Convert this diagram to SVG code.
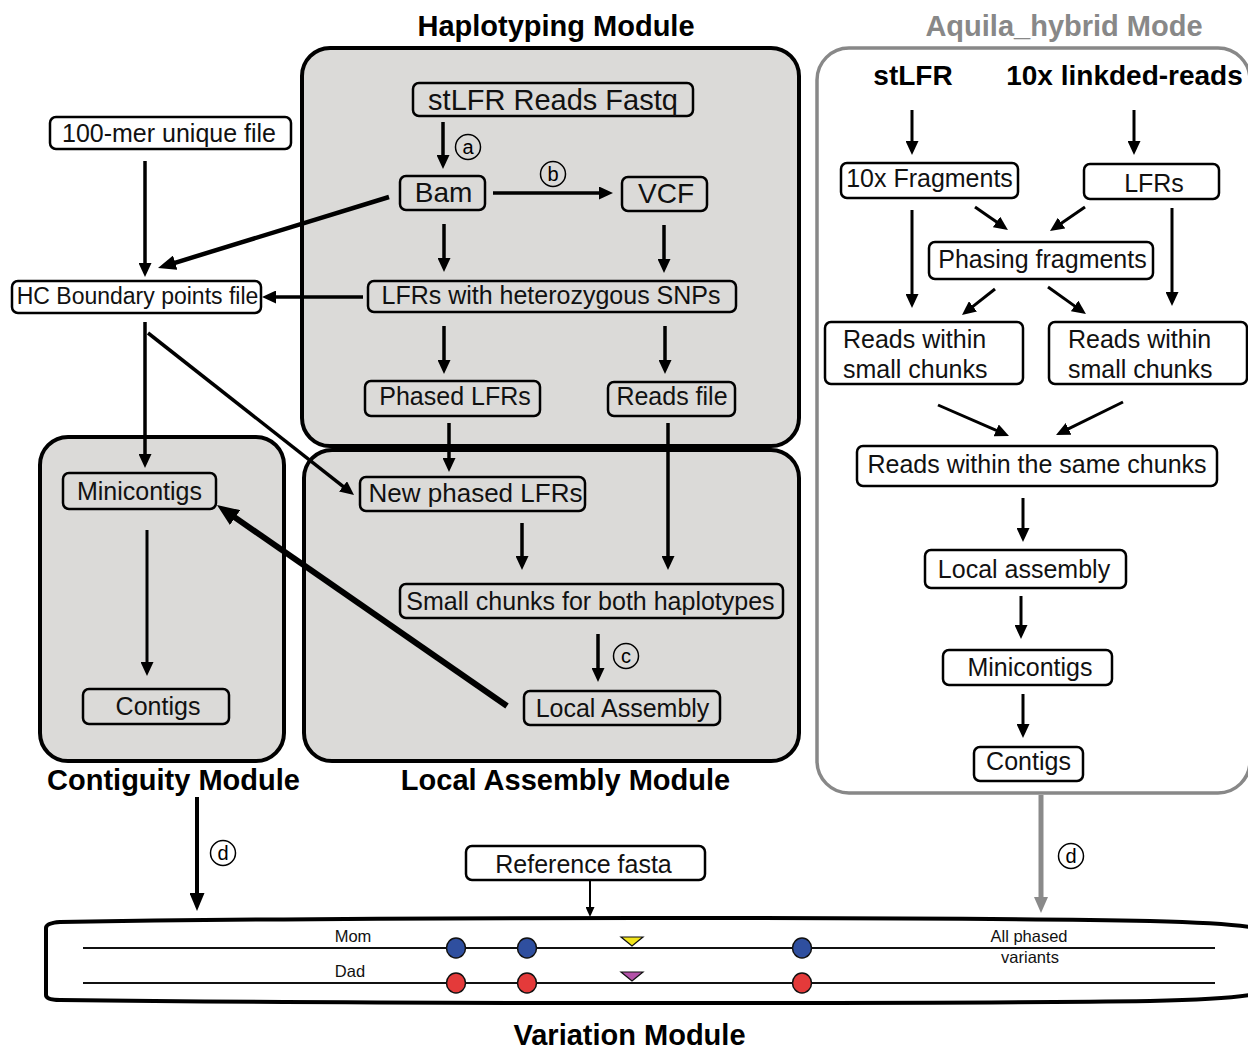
<svg xmlns="http://www.w3.org/2000/svg" width="1248" height="1051" viewBox="0 0 1248 1051">
<style>
.panel{fill:#dbdad8;stroke:#000;stroke-width:4}
.box{fill:none;stroke:#000;stroke-width:2.5}
.t{font-family:"Liberation Sans",Arial,sans-serif;font-size:25px;fill:#111;text-anchor:middle}
.tl{font-family:"Liberation Sans",Arial,sans-serif;font-size:25px;fill:#111}
.h{font-family:"Liberation Sans",Arial,sans-serif;font-size:29px;font-weight:bold;fill:#000;text-anchor:middle}
.s{font-family:"Liberation Sans",Arial,sans-serif;font-size:16.5px;fill:#111;text-anchor:middle}
.c{font-family:"Liberation Sans",Arial,sans-serif;font-size:20px;fill:#000;text-anchor:middle}
.cc{fill:none;stroke:#000;stroke-width:1.5}
.a{stroke:#000;fill:none;stroke-width:3.5;marker-end:url(#m1)}
.a3{stroke:#000;fill:none;stroke-width:3;marker-end:url(#m1)}
</style>
<defs>
<marker id="m1" markerUnits="userSpaceOnUse" markerWidth="14" markerHeight="13" refX="2" refY="6.5" orient="auto"><path d="M0,0 L14,6.5 L0,13 z" fill="#000"/></marker>
<marker id="m2" markerUnits="userSpaceOnUse" markerWidth="18" markerHeight="15" refX="2" refY="7.5" orient="auto"><path d="M0,0 L18,7.5 L0,15 z" fill="#000"/></marker>
<marker id="m3" markerUnits="userSpaceOnUse" markerWidth="22" markerHeight="18" refX="2" refY="9" orient="auto"><path d="M0,0 L22,9 L0,18 z" fill="#000"/></marker>
<marker id="mg" markerUnits="userSpaceOnUse" markerWidth="16" markerHeight="14" refX="2" refY="7" orient="auto"><path d="M0,0 L16,7 L0,14 z" fill="#8a8a8a"/></marker>
<marker id="ms" markerUnits="userSpaceOnUse" markerWidth="10" markerHeight="9" refX="1" refY="4.5" orient="auto"><path d="M0,0 L10,4.5 L0,9 z" fill="#000"/></marker>
</defs>
<rect width="1248" height="1051" fill="#fff"/>

<!-- panels -->
<g id="haplotyping-module">
<rect class="panel" x="302" y="48" width="497" height="398" rx="28"/>
<text class="h" x="556" y="36">Haplotyping Module</text>
</g>
<g id="contiguity-module">
<rect class="panel" x="40" y="437" width="244" height="324" rx="28"/>
<text class="h" x="173.5" y="790">Contiguity Module</text>
</g>
<g id="local-assembly-module">
<rect class="panel" x="304" y="450" width="495" height="311" rx="28"/>
<text class="h" x="565.5" y="790">Local Assembly Module</text>
</g>
<g id="aquila-hybrid-mode">
<rect x="817" y="48" width="433" height="745" rx="32" fill="none" stroke="#888" stroke-width="3.5"/>
<text class="h" x="1064" y="36" style="fill:#888">Aquila_hybrid Mode</text>
<text class="h" x="913" y="85" style="font-size:28px">stLFR</text>
<text class="h" x="1124.5" y="85" style="font-size:28px">10x linkded-reads</text>
</g>

<!-- nodes -->
<g id="n-100mer"><rect class="box" x="50" y="117" width="241" height="32" rx="6"/><text class="t" x="169" y="142">100-mer unique file</text></g>
<g id="n-hc"><rect class="box" x="12" y="281" width="249" height="32" rx="6"/><text class="t" x="137.5" y="304" style="font-size:23px">HC Boundary points file</text></g>
<g id="n-stlfr-fastq"><rect class="box" x="413" y="83" width="280" height="33" rx="6"/><text class="t" x="553" y="110" style="font-size:29px">stLFR Reads Fastq</text></g>
<g id="n-bam"><rect class="box" x="400" y="176" width="85" height="34" rx="6"/><text class="t" x="443.5" y="202" style="font-size:28px">Bam</text></g>
<g id="n-vcf"><rect class="box" x="622" y="177" width="85" height="34" rx="6"/><text class="t" x="666" y="203" style="font-size:28px">VCF</text></g>
<g id="n-lfrs-het"><rect class="box" x="368" y="281" width="368" height="31" rx="6"/><text class="t" x="551" y="304">LFRs with heterozygous SNPs</text></g>
<g id="n-phased-lfrs"><rect class="box" x="365" y="381" width="175" height="35" rx="6"/><text class="t" x="455" y="405">Phased LFRs</text></g>
<g id="n-reads-file"><rect class="box" x="608" y="382" width="127" height="34" rx="6"/><text class="t" x="672" y="405">Reads file</text></g>
<g id="n-minicontigs-l"><rect class="box" x="63" y="473" width="153" height="36" rx="6"/><text class="t" x="139.5" y="500">Minicontigs</text></g>
<g id="n-contigs-l"><rect class="box" x="83" y="689" width="146" height="35" rx="6"/><text class="t" x="158" y="715">Contigs</text></g>
<g id="n-new-phased"><rect class="box" x="360" y="477" width="225" height="34" rx="6"/><text class="t" x="475.5" y="502" style="font-size:26px">New phased LFRs</text></g>
<g id="n-small-chunks"><rect class="box" x="400" y="584" width="383" height="34" rx="6"/><text class="t" x="590.5" y="610">Small chunks for both haplotypes</text></g>
<g id="n-local-assembly"><rect class="box" x="524" y="691" width="196" height="34" rx="6"/><text class="t" x="622.5" y="717">Local Assembly</text></g>
<g id="n-10x-frag"><rect class="box" x="841" y="163" width="177" height="35" rx="6"/><text class="t" x="929.5" y="187">10x Fragments</text></g>
<g id="n-lfrs-r"><rect class="box" x="1084" y="164" width="135" height="35" rx="6"/><text class="t" x="1154" y="192">LFRs</text></g>
<g id="n-phasing"><rect class="box" x="929" y="242" width="224" height="37" rx="6"/><text class="t" x="1042.5" y="268">Phasing fragments</text></g>
<g id="n-reads-small-l"><rect class="box" x="825" y="322" width="198" height="62" rx="6"/><text class="tl" x="843" y="348">Reads within</text><text class="tl" x="843" y="378">small chunks</text></g>
<g id="n-reads-small-r"><rect class="box" x="1049" y="322" width="198" height="62" rx="6"/><text class="tl" x="1068" y="348">Reads within</text><text class="tl" x="1068" y="378">small chunks</text></g>
<g id="n-same-chunks"><rect class="box" x="857" y="446" width="360" height="40" rx="6"/><text class="t" x="1037" y="473">Reads within the same chunks</text></g>
<g id="n-local-asm-r"><rect class="box" x="925" y="550" width="201" height="38" rx="6"/><text class="t" x="1024" y="578">Local assembly</text></g>
<g id="n-minicontigs-r"><rect class="box" x="943" y="650" width="169" height="35" rx="6"/><text class="t" x="1030" y="676">Minicontigs</text></g>
<g id="n-contigs-r"><rect class="box" x="974" y="747" width="109" height="34" rx="6"/><text class="t" x="1028.5" y="770">Contigs</text></g>
<g id="n-reference"><rect class="box" x="466" y="846" width="239" height="34" rx="6"/><text class="t" x="583.5" y="873">Reference fasta</text></g>

<!-- variation module -->
<g id="variation-module">
<path d="M1255,928 Q1230,923 1150,921 Q1000,918 640,918 Q300,918 60,922 Q46,923 46,928 L46,995 Q46,1000 60,1000 Q300,1003 640,1003 Q1000,1003 1150,1001 Q1230,999 1255,994" fill="none" stroke="#000" stroke-width="4"/>
<line x1="83" y1="948" x2="1215" y2="948" stroke="#111" stroke-width="2"/>
<line x1="83" y1="983" x2="1215" y2="983" stroke="#111" stroke-width="2"/>
<text class="s" x="353" y="942">Mom</text>
<text class="s" x="350" y="977">Dad</text>
<text class="s" x="1029" y="942">All phased</text>
<text class="s" x="1030" y="963">variants</text>
<ellipse cx="456" cy="948" rx="9.5" ry="10" fill="#2f4f9f" stroke="#111" stroke-width="1.5"/>
<ellipse cx="527" cy="948" rx="9.5" ry="10" fill="#2f4f9f" stroke="#111" stroke-width="1.5"/>
<ellipse cx="802" cy="948" rx="9.5" ry="10" fill="#2f4f9f" stroke="#111" stroke-width="1.5"/>
<ellipse cx="456" cy="983" rx="9.5" ry="10" fill="#e43a3a" stroke="#111" stroke-width="1.5"/>
<ellipse cx="527" cy="983" rx="9.5" ry="10" fill="#e43a3a" stroke="#111" stroke-width="1.5"/>
<ellipse cx="802" cy="983" rx="9.5" ry="10" fill="#e43a3a" stroke="#111" stroke-width="1.5"/>
<polygon points="621,937 643,937 632,946" fill="#f2e51b" stroke="#111" stroke-width="1.2"/>
<polygon points="621,972 643,972 632,981" fill="#b352a8" stroke="#111" stroke-width="1.2"/>
<text class="h" x="629.5" y="1045">Variation Module</text>
</g>

<!-- connectors -->
<g id="connectors">
<line class="a" x1="443" y1="122" x2="443" y2="157"/>
<line class="a" x1="493" y1="193" x2="601" y2="193"/>
<line class="a" x1="444" y1="224" x2="444" y2="260"/>
<line class="a" x1="664" y1="225" x2="664" y2="261"/>
<line class="a" x1="444" y1="326" x2="444" y2="362"/>
<line class="a" x1="665" y1="326" x2="665" y2="362"/>
<line class="a" x1="449" y1="423" x2="449" y2="460"/>
<line class="a" x1="668" y1="423" x2="668" y2="558"/>
<line class="a" x1="145" y1="161" x2="145" y2="265"/>
<line x1="389" y1="197" x2="173.3" y2="263.3" stroke="#000" stroke-width="4.5" marker-end="url(#m2)"/>
<line class="a" x1="363" y1="297" x2="274" y2="297"/>
<line class="a" x1="145" y1="322" x2="145" y2="456"/>
<line class="a" x1="148" y1="333" x2="344.6" y2="487.6"/>
<line class="a3" x1="147" y1="530" x2="147" y2="664"/>
<line class="a" x1="522" y1="523" x2="522" y2="558"/>
<line class="a" x1="598" y1="634" x2="598" y2="670"/>
<line x1="507" y1="706" x2="233.4" y2="516.4" stroke="#000" stroke-width="6" marker-end="url(#m3)"/>
<line class="a3" x1="912" y1="110" x2="912" y2="143"/>
<line class="a3" x1="1134" y1="110" x2="1134" y2="143"/>
<line class="a3" x1="975" y1="207" x2="998.1" y2="223.1"/>
<line class="a3" x1="1085" y1="207" x2="1059.9" y2="224.2"/>
<line class="a3" x1="912" y1="210" x2="912" y2="296"/>
<line class="a3" x1="1172" y1="208" x2="1172" y2="294"/>
<line class="a3" x1="995" y1="289" x2="971.4" y2="307.6"/>
<line class="a3" x1="1048" y1="287" x2="1076.2" y2="307.1"/>
<line class="a3" x1="938" y1="405" x2="998" y2="431.2"/>
<line class="a3" x1="1123" y1="402" x2="1066.8" y2="429.7"/>
<line class="a3" x1="1023" y1="498" x2="1023" y2="530"/>
<line class="a3" x1="1021" y1="596" x2="1021" y2="627"/>
<line class="a3" x1="1023" y1="694" x2="1023" y2="726"/>
<line x1="197" y1="797" x2="197" y2="895" stroke="#000" stroke-width="4" marker-end="url(#m2)"/>
<line x1="1041" y1="795" x2="1041" y2="899" stroke="#8a8a8a" stroke-width="5" marker-end="url(#mg)"/>
<line x1="590" y1="880" x2="590" y2="908" stroke="#000" stroke-width="2" marker-end="url(#ms)"/>
</g>

<!-- step labels -->
<g id="step-labels">
<circle class="cc" cx="468" cy="147" r="12.5"/><text class="c" x="468" y="153.5">a</text>
<circle class="cc" cx="553" cy="174" r="12.5"/><text class="c" x="553" y="181">b</text>
<circle class="cc" cx="626" cy="656" r="12.5"/><text class="c" x="626" y="662.5">c</text>
<circle class="cc" cx="223" cy="853" r="12.5"/><text class="c" x="223" y="860">d</text>
<circle class="cc" cx="1071" cy="856" r="12.5"/><text class="c" x="1071" y="863">d</text>
</g>
</svg>
